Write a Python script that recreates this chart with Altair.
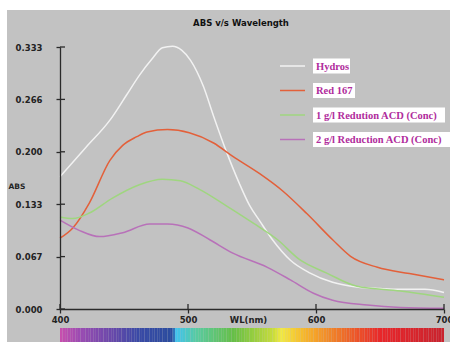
import altair as alt
import pandas as pd

# ---------------- data ----------------
title_text = "ABS v/s Wavelength"
series_names = ["Hydros", "Red 167", "1 g/l Redution ACD (Conc)", "2 g/l Reduction ACD (Conc)"]
legend_labels = ["Hydros", "Red 167", "1 g/l Redution ACD (Conc)", "2 g/l Reduction ACD (Conc)"]
series_colors = ["#f2f2f2", "#e3603a", "#9fd67f", "#b871b9"]

hydros_wl = [400, 420, 439, 452, 462, 472, 480, 488, 495, 502, 512, 520, 530, 540, 548, 556, 566, 580, 595, 613, 632, 650, 666, 685, 700]
hydros_abs = [0.168, 0.205, 0.240, 0.272, 0.297, 0.318, 0.332, 0.334, 0.329, 0.316, 0.283, 0.245, 0.200, 0.160, 0.132, 0.112, 0.088, 0.062, 0.046, 0.034, 0.028, 0.026, 0.025, 0.025, 0.021]

red_wl = [400, 410, 423, 439, 449, 460, 468, 484, 501, 520, 535, 556, 574, 593, 613, 627, 648, 673, 700]
red_abs = [0.090, 0.103, 0.135, 0.189, 0.208, 0.219, 0.225, 0.228, 0.224, 0.211, 0.194, 0.172, 0.150, 0.121, 0.088, 0.067, 0.053, 0.045, 0.037]

g1_wl = [400, 410, 423, 441, 462, 480, 494, 509, 530, 551, 570, 587, 608, 632, 666, 700]
g1_abs = [0.117, 0.115, 0.122, 0.141, 0.158, 0.165, 0.163, 0.152, 0.131, 0.109, 0.088, 0.063, 0.046, 0.029, 0.023, 0.015]

g2_wl = [400, 415, 431, 449, 470, 484, 500, 517, 535, 562, 580, 598, 613, 640, 666, 700]
g2_abs = [0.113, 0.100, 0.092, 0.097, 0.108, 0.108, 0.103, 0.088, 0.071, 0.053, 0.037, 0.020, 0.011, 0.005, 0.002, 0.001]

x_ticks = [400, 500, 600, 700]
y_ticks = [0.0, 0.0666, 0.1332, 0.1998, 0.2664, 0.333]

spectrum_stops = [400, 415, 440, 460, 487, 490, 505, 535, 565, 572, 590, 615, 650, 700]
spectrum_colors = ["#c64fae", "#9a4bb2", "#6848aa", "#3a4aa6", "#2a4c9e", "#3fc3ef", "#57cba3", "#66bf45",
                   "#c6dc3a", "#f2ea42", "#f7b62a", "#f07a28", "#e8262a", "#c8232e"]

# ---------------- build table ----------------
rows = []
for name, wls, vals in [(series_names[0], hydros_wl, hydros_abs),
                        (series_names[1], red_wl, red_abs),
                        (series_names[2], g1_wl, g1_abs),
                        (series_names[3], g2_wl, g2_abs)]:
    for w, v in zip(wls, vals):
        rows.append({"series": name, "wl": w, "abs": v})
df = pd.DataFrame(rows)

W, H = 384, 262
GRAY = "#c2c2c2"
AX = "#2a2a2a"

xscale = alt.Scale(domain=[400, 700], nice=False, zero=False)
yscale = alt.Scale(domain=[0, 0.333], nice=False)
cscale = alt.Scale(domain=series_names, range=series_colors)

one = pd.DataFrame({"k": [0]})

# white strips at top and left of the grey panel
strip_top = alt.Chart(one).mark_rect(color="white").encode(
    x=alt.value(-60), x2=alt.value(W + 6), y=alt.value(-47), y2=alt.value(-37)
)
strip_left = alt.Chart(one).mark_rect(color="white").encode(
    x=alt.value(-60), x2=alt.value(-53), y=alt.value(-47), y2=alt.value(H + 33)
)

# chart title as a text mark
title = alt.Chart(pd.DataFrame({"t": [title_text]})).mark_text(
    font="DejaVu Sans", fontWeight="bold", fontSize=8.5, color="#111", align="center", baseline="middle"
).encode(x=alt.value(181), y=alt.value(-24), text="t:N")

# spectrum bar below the axis
spectrum = alt.Chart(alt.sequence(400, 700, 2, as_="wl")).transform_calculate(
    wl2="datum.wl + 2"
).mark_rect().encode(
    x=alt.X("wl:Q", scale=xscale),
    x2="wl2:Q",
    y=alt.value(H + 19),
    y2=alt.value(H + 33),
    color=alt.Color("wl:Q", scale=alt.Scale(domain=spectrum_stops, range=spectrum_colors, interpolate="rgb"),
                    legend=None),
)

lines = alt.Chart(df).mark_line(strokeWidth=1.5, interpolate="monotone").encode(
    x=alt.X("wl:Q", scale=xscale,
            axis=alt.Axis(values=x_ticks, format="d", title="WL(nm)", grid=False, zindex=1,
                          domainColor=AX, domainWidth=1.3, tickColor=AX, tickSize=4, tickWidth=1.3,
                          labelFont="DejaVu Sans", labelFontWeight="bold", labelFontSize=8.5,
                          labelColor="#222", labelPadding=2, labelFlush=False,
                          titleFont="DejaVu Sans", titleFontWeight="bold", titleFontSize=8.5,
                          titleColor="#222", titleX=188, titleY=6, titleBaseline="top",
                          titleAlign="center")),
    y=alt.Y("abs:Q", scale=yscale,
            axis=alt.Axis(values=y_ticks, format=".3f", title="ABS", grid=False, zindex=1,
                          domainColor=AX, domainWidth=1.3, tickColor=AX, tickSize=4, tickWidth=1.3,
                          labelFont="DejaVu Sans", labelFontWeight="bold", labelFontSize=8.5,
                          labelColor="#222", labelPadding=14,
                          titleFont="DejaVu Sans", titleFontWeight="bold", titleFontSize=7.5,
                          titleColor="#222", titleAngle=0, titleX=-52, titleY=139,
                          titleAlign="left", titleBaseline="middle")),
    color=alt.Color("series:N", scale=cscale, legend=None),
    detail="series:N",
)

# inner half of the crossing ticks
ytick_in = alt.Chart(pd.DataFrame({"t": y_ticks})).mark_rule(color=AX, strokeWidth=1.3).encode(
    y=alt.Y("t:Q", scale=yscale), x=alt.value(0), x2=alt.value(5)
)
xtick_in = alt.Chart(pd.DataFrame({"t": x_ticks})).mark_rule(color=AX, strokeWidth=1.3).encode(
    x=alt.X("t:Q", scale=xscale), y=alt.value(H - 5), y2=alt.value(H)
)

# manual legend
legend_layers = []
for i, (name, lab) in enumerate(zip(series_names, legend_labels)):
    ly = 19 + i * 24.5
    ld = pd.DataFrame({"series": [name], "label": [lab]})
    bw = 5.0 * len(lab) + 7
    legend_layers.append(alt.Chart(ld).mark_rule(strokeWidth=1.5).encode(
        x=alt.value(220), x2=alt.value(245), y=alt.value(ly),
        color=alt.Color("series:N", scale=cscale, legend=None)))
    legend_layers.append(alt.Chart(ld).mark_rect(color="white").encode(
        x=alt.value(253), x2=alt.value(253 + bw), y=alt.value(ly - 7.5), y2=alt.value(ly + 7.5)))
    legend_layers.append(alt.Chart(ld).mark_text(
        align="left", baseline="middle", font="Liberation Serif", fontWeight="bold",
        fontSize=10.5, color="#b02c9c").encode(
        x=alt.value(256), y=alt.value(ly + 0.5), text="label:N"))

chart = alt.layer(strip_top, strip_left, title, spectrum, lines, ytick_in, xtick_in, *legend_layers).resolve_scale(
    color="independent"
).properties(
    width=W, height=H,
    autosize=alt.AutoSizeParams(type="none"),
    padding={"left": 60, "top": 47, "right": 6, "bottom": 33},
    background=GRAY,
).configure_view(stroke=None)

chart.save("out.html", embed_options={"renderer": "svg", "actions": False})
